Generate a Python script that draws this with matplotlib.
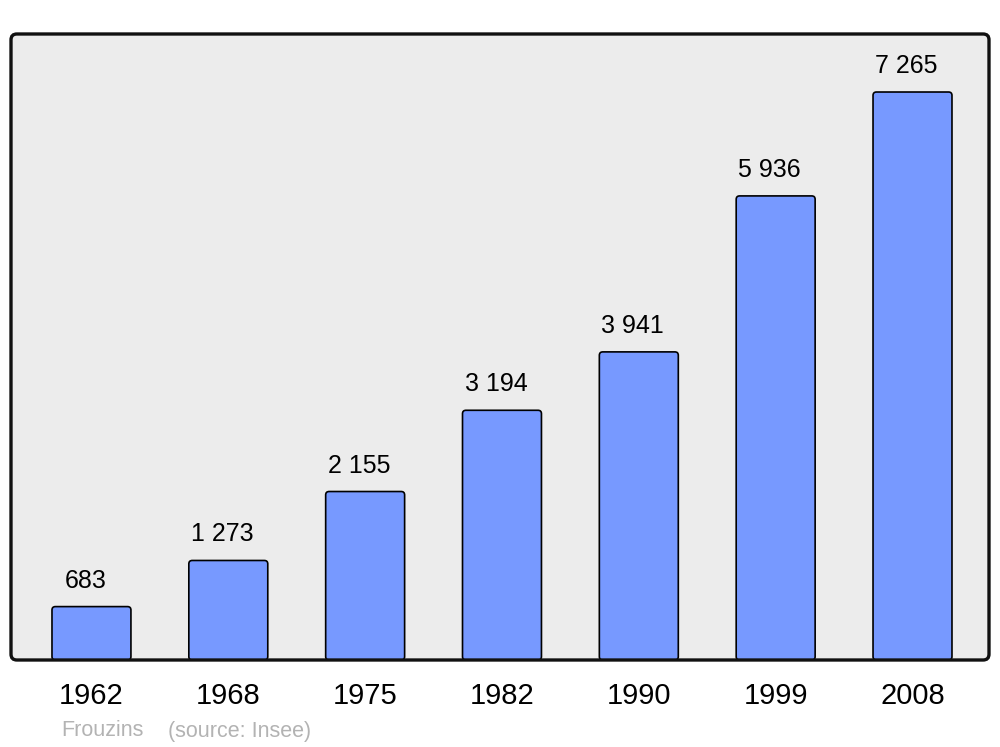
import matplotlib.pyplot as plt
from matplotlib.patches import FancyBboxPatch

plt.rcParams['font.family'] = ['Liberation Sans', 'DejaVu Sans']

years = ['1962', '1968', '1975', '1982', '1990', '1999', '2008']
population = [683, 1273, 2155, 3194, 3941, 5936, 7265]
value_labels = ['683', '1 273', '2 155', '3 194', '3 941', '5 936', '7 265']

fig = plt.figure(figsize=(10, 7.47), dpi=100)
ax = fig.add_axes([0.011, 1 - 660 / 747, 0.978, 626 / 747])
ax.set_facecolor('none')

x = list(range(len(years)))
bars = ax.bar(x, population, width=0.577, color='#7799ff', edgecolor='black', linewidth=1.2)

ax.set_xlim(-0.588, 6.559)
ax.set_ylim(0, 8007)

# round the bar corners
aspect = (8007 / 626) * 136.83
for b in bars:
    bx, by = b.get_x(), b.get_y()
    w, h = b.get_width(), b.get_height()
    rb = FancyBboxPatch((bx, by), w, h, boxstyle='round,pad=0,rounding_size=0.025',
                        mutation_aspect=aspect, facecolor='#7799ff',
                        edgecolor='black', linewidth=1.2, zorder=2)
    b.set_visible(False)
    ax.add_patch(rb)

# panel background with rounded frame
bg = FancyBboxPatch((0, 0), 1, 1, boxstyle='round,pad=0,rounding_size=0.006',
                    transform=ax.transAxes, facecolor='#ececec', edgecolor='none',
                    zorder=0, clip_on=False, mutation_aspect=978 / 626)
ax.add_patch(bg)
frame = FancyBboxPatch((0, 0), 1, 1, boxstyle='round,pad=0,rounding_size=0.006',
                       transform=ax.transAxes, facecolor='none', edgecolor='#111111',
                       linewidth=2.4, zorder=5, clip_on=False, mutation_aspect=978 / 626)
ax.add_patch(frame)

for xi, v, lab in zip(x, population, value_labels):
    ax.annotate(lab, (xi, v), xytext=(-6, 26), textcoords='offset pixels',
                ha='center', va='center', fontsize=18, color='black')

for s in ax.spines.values():
    s.set_visible(False)
ax.set_xticks(x)
ax.set_xticklabels(years, fontsize=21)
ax.tick_params(axis='x', length=0, pad=16)
ax.set_yticks([])

fig.text(0.061, 1 - 731 / 747, 'Frouzins', fontsize=15.5, color='#b3b3b3', va='center', ha='left')
fig.text(0.168, 1 - 731 / 747, '(source: Insee)', fontsize=15.5, color='#b3b3b3', va='center', ha='left')

fig.savefig('out.png', dpi=100)
